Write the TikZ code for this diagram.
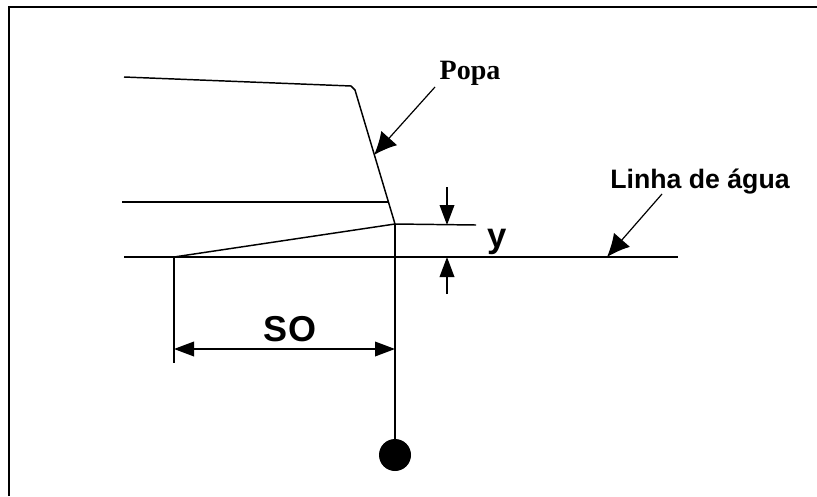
\documentclass[tikz,border=0pt]{standalone}
\usepackage{fontspec}
\setmainfont{Liberation Sans}
\newfontfamily\serifbold{Liberation Serif}
\usetikzlibrary{arrows.meta}
\tikzset{
	line/.style={line width=1.1pt},
	pointer/.style={line width=.9pt,-{Latex[length=17pt,width=16pt]}},
	dimtip/.style={{Triangle[length=15pt,width=11pt]}-{Triangle[length=15pt,width=11pt]}}
}
\begin{document}
\begin{tikzpicture}[x=.75pt,y=-.75pt]
	\useasboundingbox (0,0) rectangle (817,496);
	\coordinate (frameA) at (9,496);
	\coordinate (frameB) at (9,7);
	\coordinate (frameC) at (817,7);
	\draw[line width=1.5pt] (frameA) -- (frameB) -- (frameC);

	\coordinate (topA) at (124,77);
	\coordinate (topB) at (351,86);
	\coordinate (stern) at (395,224);
	\coordinate (deckA) at (122,202);
	\coordinate (deckB) at (388,202);
	\coordinate (waterA) at (124,257);
	\coordinate (waterB) at (678,257);
	\coordinate (keel) at (174,257);
	\coordinate (keelEnd) at (174,363);
	\coordinate (levelEnd) at (476,225);

	\draw[line] (topA) -- (topB) -- ++(4,4) -- (stern);
	\draw[line] (deckA) -- (deckB);
	\draw[line] (waterA) -- (waterB);
	\draw[line] (keel) -- (stern) -- (levelEnd);
	\draw[line] (keel) -- (keelEnd);

	\node[circle,fill,inner sep=0pt,minimum size=24pt] (ball) at (395,455) {};
	\draw[line] (stern) -- (ball);

	% dimensions
	\coordinate (soA) at (174,349);
	\coordinate (soB) at (395,349);
	\draw[line,dimtip] (soA) -- (soB);
	\node[font=\fontsize{27pt}{27pt}\selectfont\bfseries] (so) at (290,329) {SO};

	\coordinate (yA) at (447,187);
	\coordinate (yB) at (447,225);
	\coordinate (yC) at (447,294);
	\coordinate (yD) at (447,257);
	\draw[line,-{Triangle[length=15pt,width=11pt]}] (yA) -- (yB);
	\draw[line,-{Triangle[length=15pt,width=11pt]}] (yC) -- (yD);
	\node[font=\fontsize{26pt}{26pt}\selectfont\bfseries] (ylabel) at (497,242) {y};

	% labels
	\node[font=\fontsize{21pt}{21pt}\selectfont\serifbold\bfseries] (popa) at (470,73) {Popa};
	\node[font=\fontsize{20pt}{20pt}\selectfont\bfseries] (linha) at (700,182) {Linha de água};
	\coordinate (popaTip) at (374,155);
	\coordinate (popaEnd) at (435,87);
	\coordinate (linhaTip) at (607,257);
	\coordinate (linhaEnd) at (662,194);
	\draw[pointer] (popaEnd) -- (popaTip);
	\draw[pointer] (linhaEnd) -- (linhaTip);
\end{tikzpicture}
\end{document}
